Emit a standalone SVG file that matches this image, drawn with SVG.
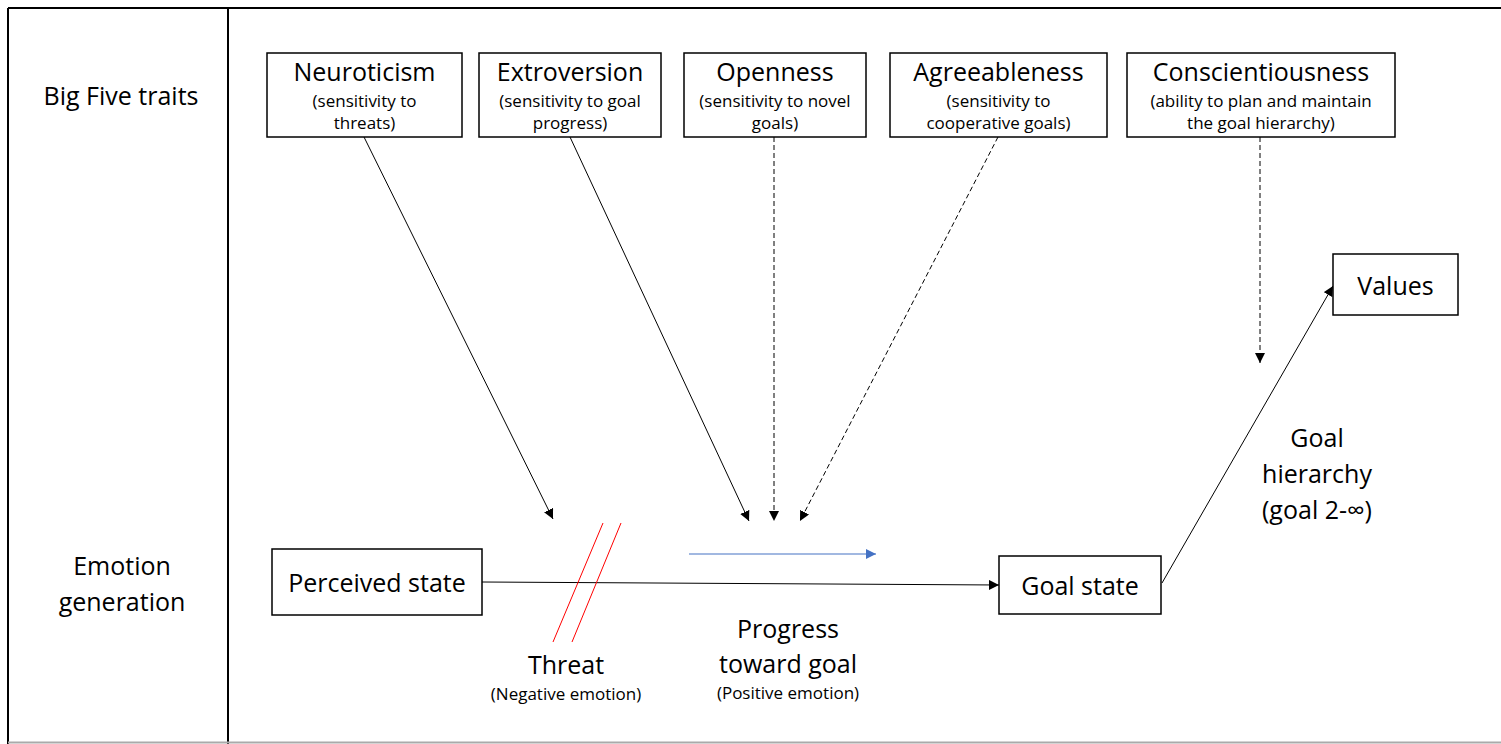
<svg xmlns="http://www.w3.org/2000/svg" width="1501" height="744" viewBox="0 0 1501 744">
  <style>
    .box { fill: #ffffff; stroke: #000000; stroke-width: 1.5; }
    .t { font-family: "Open Sans", "Noto Sans", sans-serif; fill: #000000; text-anchor: middle; }
    .big { font-size: 25px; }
    .small { font-size: 17px; }
    .conn { stroke: #000000; stroke-width: 1; fill: none; }
    .dash { stroke-dasharray: 5 3; }
    .frame { stroke: #000000; stroke-width: 2; fill: none; }
  </style>
  <defs>
    <marker id="arrow" viewBox="0 0 10 10" refX="10" refY="5" markerWidth="10" markerHeight="10" markerUnits="userSpaceOnUse" orient="auto">
      <path d="M0,0 L10,5 L0,10 Z" fill="#000000"/>
    </marker>
    <marker id="arrowBlue" viewBox="0 0 10 10" refX="10" refY="5" markerWidth="10" markerHeight="10" markerUnits="userSpaceOnUse" orient="auto">
      <path d="M0,0 L10,5 L0,10 Z" fill="#4472C4"/>
    </marker>
  </defs>

  <rect width="1501" height="744" fill="#ffffff"/>

  <!-- table frame -->
  <g id="frame">
    <line class="frame" x1="8" y1="8" x2="1501" y2="8"/>
    <line class="frame" x1="8" y1="8" x2="8" y2="744"/>
    <line class="frame" x1="228" y1="8" x2="228" y2="744"/>
    <line x1="8" y1="742.5" x2="1501" y2="742.5" stroke="#aaaaaa" stroke-width="2"/>
  </g>

  <!-- row labels -->
  <g id="row-labels">
    <text class="t big" x="121" y="105">Big Five traits</text>
    <text class="t big" x="122" y="575">Emotion</text>
    <text class="t big" x="122" y="611">generation</text>
  </g>

  <!-- connectors -->
  <g id="connectors">
    <line class="conn" x1="364" y1="137" x2="553" y2="519" marker-end="url(#arrow)"/>
    <line class="conn" x1="570" y1="137" x2="749" y2="521" marker-end="url(#arrow)"/>
    <line class="conn dash" x1="774" y1="137" x2="774" y2="521" marker-end="url(#arrow)"/>
    <line class="conn dash" x1="998" y1="137" x2="800" y2="521" marker-end="url(#arrow)"/>
    <line class="conn dash" x1="1260" y1="137" x2="1260" y2="363" marker-end="url(#arrow)"/>
    <line class="conn" x1="482" y1="582" x2="999" y2="585" marker-end="url(#arrow)"/>
    <line class="conn" x1="1162" y1="583" x2="1333" y2="286" marker-end="url(#arrow)"/>
    <line x1="689" y1="554" x2="876" y2="554" stroke="#4472C4" stroke-width="1.2" marker-end="url(#arrowBlue)"/>
    <!-- threat break marks -->
    <line x1="603" y1="523" x2="553" y2="642" stroke="#ff0000" stroke-width="1"/>
    <line x1="621" y1="523" x2="572" y2="642" stroke="#ff0000" stroke-width="1"/>
  </g>

  <!-- trait nodes -->
  <g id="neuroticism">
    <rect class="box" x="267" y="53" width="195" height="84"/>
    <text class="t big" x="364.5" y="81">Neuroticism</text>
    <text class="t small" x="364.5" y="107">(sensitivity to</text>
    <text class="t small" x="364.5" y="129">threats)</text>
  </g>
  <g id="extroversion">
    <rect class="box" x="479" y="53" width="182" height="84"/>
    <text class="t big" x="570" y="81">Extroversion</text>
    <text class="t small" x="570" y="107">(sensitivity to goal</text>
    <text class="t small" x="570" y="129">progress)</text>
  </g>
  <g id="openness">
    <rect class="box" x="684" y="53" width="182" height="84"/>
    <text class="t big" x="775" y="81">Openness</text>
    <text class="t small" x="775" y="107">(sensitivity to novel</text>
    <text class="t small" x="775" y="129">goals)</text>
  </g>
  <g id="agreeableness">
    <rect class="box" x="890" y="53" width="217" height="84"/>
    <text class="t big" x="998.5" y="81">Agreeableness</text>
    <text class="t small" x="998.5" y="107">(sensitivity to</text>
    <text class="t small" x="998.5" y="129">cooperative goals)</text>
  </g>
  <g id="conscientiousness">
    <rect class="box" x="1127" y="53" width="268" height="84"/>
    <text class="t big" x="1261" y="81">Conscientiousness</text>
    <text class="t small" x="1261" y="107">(ability to plan and maintain</text>
    <text class="t small" x="1261" y="129">the goal hierarchy)</text>
  </g>

  <!-- state nodes -->
  <g id="perceived-state">
    <rect class="box" x="272" y="549" width="210" height="66"/>
    <text class="t big" x="377" y="592">Perceived state</text>
  </g>
  <g id="goal-state">
    <rect class="box" x="999" y="556" width="162" height="58"/>
    <text class="t big" x="1080" y="595">Goal state</text>
  </g>
  <g id="values">
    <rect class="box" x="1333" y="254" width="125" height="61"/>
    <text class="t big" x="1395.5" y="295">Values</text>
  </g>

  <!-- emotion labels -->
  <g id="threat-label">
    <text class="t big" x="566" y="674">Threat</text>
    <text class="t small" x="566" y="700">(Negative emotion)</text>
  </g>
  <g id="progress-label">
    <text class="t big" x="788" y="638">Progress</text>
    <text class="t big" x="788" y="673">toward goal</text>
    <text class="t small" x="788" y="699">(Positive emotion)</text>
  </g>
  <g id="hierarchy-label">
    <text class="t big" x="1317" y="447">Goal</text>
    <text class="t big" x="1317" y="483">hierarchy</text>
    <text class="t big" x="1317" y="519">(goal 2-∞)</text>
  </g>
</svg>
